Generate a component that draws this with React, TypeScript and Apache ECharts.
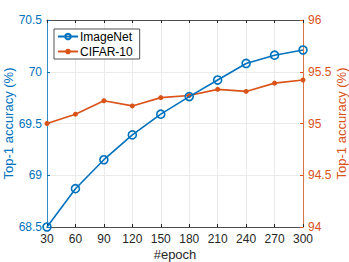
import React, { useEffect, useRef } from "react";
import * as echarts from "echarts";

const epochs = [30, 60, 90, 120, 150, 180, 210, 240, 270, 300];
const imagenet = [68.5, 68.87, 69.15, 69.39, 69.59, 69.76, 69.92, 70.08, 70.16, 70.21];
const cifar = [95.0, 95.09, 95.22, 95.17, 95.25, 95.27, 95.33, 95.31, 95.39, 95.42];

const BLUE = "#0072BD";
const ORANGE = "#D95319";
const FONT = "Liberation Sans";

export default function App() {
  const ref = useRef<HTMLDivElement>(null);
  useEffect(() => {
    const chart = echarts.init(ref.current!, null, { renderer: "svg" });
    chart.setOption({
      animation: false,
      textStyle: { fontFamily: FONT },
      grid: { left: 47, right: 46, top: 20, bottom: 35, containLabel: false, outerBoundsMode: "none" },
      legend: {
        left: 54,
        top: 29,
        orient: "vertical",
        backgroundColor: "#fff",
        borderColor: "#262626",
        borderWidth: 0.8,
        padding: [0, 7, 0, 3],
        itemGap: 0,
        itemWidth: 20,
        itemHeight: 7,
        textStyle: { fontSize: 12, lineHeight: 15, color: "#000", fontFamily: FONT, padding: [0, 0, 0, -3] },
        data: ["ImageNet", "CIFAR-10"],
      },
      xAxis: [
        {
          type: "value",
          min: 30,
          max: 300,
          interval: 30,
          name: "#epoch",
          nameLocation: "middle",
          nameGap: 21,
          nameMoveOverlap: false,
          nameTextStyle: { fontSize: 13, color: "#262626", fontFamily: FONT },
          axisLine: { lineStyle: { color: "#262626", width: 0.8 } },
          axisTick: { inside: true, length: 3, lineStyle: { color: "#262626" } },
          axisLabel: { fontSize: 12, color: "#262626", margin: 6, fontFamily: FONT },
          splitLine: { show: true, lineStyle: { color: "#ebebeb", width: 1 } },
        },
        {
          type: "value",
          position: "top",
          min: 30,
          max: 300,
          interval: 30,
          axisLine: { show: true, lineStyle: { color: "#262626", width: 0.8 } },
          axisTick: { show: true, inside: true, length: 3, lineStyle: { color: "#262626" } },
          axisLabel: { show: false },
          splitLine: { show: false },
        },
      ],
      yAxis: [
        {
          type: "value",
          min: 68.5,
          max: 70.5,
          interval: 0.5,
          name: "Top-1 accuracy (%)",
          nameLocation: "middle",
          nameGap: 32,
          nameMoveOverlap: false,
          nameTextStyle: { fontSize: 13, color: BLUE, fontFamily: FONT },
          axisLine: { show: true, lineStyle: { color: BLUE, width: 0.8 } },
          axisTick: { show: true, inside: true, length: 3, lineStyle: { color: BLUE } },
          axisLabel: { fontSize: 12, color: BLUE, margin: 5, fontFamily: FONT },
          splitLine: { show: true, lineStyle: { color: "#ebebeb", width: 1 } },
        },
        {
          type: "value",
          min: 94,
          max: 96,
          interval: 0.5,
          position: "right",
          name: "Top-1 accuracy (%)",
          nameLocation: "middle",
          nameGap: 32,
          nameRotate: 90,
          nameMoveOverlap: false,
          nameTextStyle: { fontSize: 13, color: ORANGE, fontFamily: FONT },
          axisLine: { show: true, lineStyle: { color: ORANGE, width: 0.8 } },
          axisTick: { show: true, inside: true, length: 3, lineStyle: { color: ORANGE } },
          axisLabel: { fontSize: 12, color: ORANGE, margin: 5, fontFamily: FONT },
          splitLine: { show: false },
        },
      ],
      series: [
        {
          name: "ImageNet",
          type: "line",
          yAxisIndex: 0,
          data: epochs.map((e, i) => [e, imagenet[i]]),
          symbol: "circle",
          symbolSize: 8,
          lineStyle: { color: BLUE, width: 1.6 },
          itemStyle: { color: "rgba(255,255,255,0)", borderColor: BLUE, borderWidth: 1.6 },
          clip: false,
          z: 3,
        },
        {
          name: "CIFAR-10",
          type: "line",
          yAxisIndex: 1,
          data: epochs.map((e, i) => [e, cifar[i]]),
          symbol: "circle",
          symbolSize: 5,
          lineStyle: { color: ORANGE, width: 1.6 },
          itemStyle: { color: ORANGE, borderColor: ORANGE, borderWidth: 0 },
          clip: false,
          z: 2,
        },
      ],
    });
    return () => chart.dispose();
  }, []);
  return <div ref={ref} style={{ width: 349, height: 262, position: "absolute", left: 0, top: 0 }} />;
}
